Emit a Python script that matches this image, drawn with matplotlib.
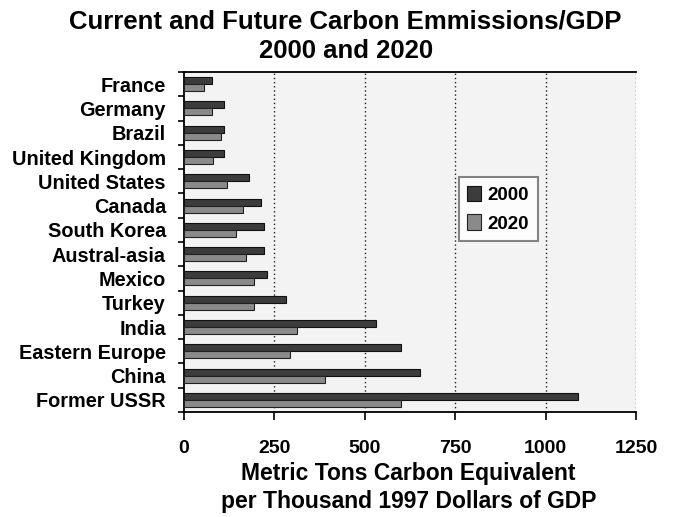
import numpy as np
import matplotlib.pyplot as plt

plt.rcParams['font.family'] = ['Liberation Sans', 'DejaVu Sans']
plt.rcParams['font.weight'] = 'bold'

regions = ["France", "Germany", "Brazil", "United Kingdom", "United States",
           "Canada", "South Korea", "Austral-asia", "Mexico", "Turkey",
           "India", "Eastern Europe", "China", "Former USSR"]
em_2000 = [77, 111, 111, 111, 180, 213, 221, 221, 230, 281, 531, 600, 652, 1090]
em_2020 = [55, 78, 103, 81, 120, 163, 143, 171, 194, 194, 312, 292, 390, 600]
xticks = [0, 250, 500, 750, 1000, 1250]

fig = plt.figure(figsize=(6.75, 5.17), dpi=100)
ax = fig.add_axes([0.2726, 0.2031, 0.6696, 0.6576])
ax.set_facecolor("#f3f3f3")

y = np.arange(len(regions))
h = 0.29
ax.barh(y - h / 2, em_2000, height=h, color="#3c3c3c", edgecolor="#111111",
        linewidth=0.8, label="2000", zorder=3)
ax.barh(y + h / 2, em_2020, height=h, color="#8a8a8a", edgecolor="#222222",
        linewidth=0.8, label="2020", zorder=3)

ax.set_ylim(len(regions) - 0.5, -0.5)
ax.set_xlim(0, 1250)
ax.set_xticks(xticks)
ax.set_xticklabels([str(t) for t in xticks], fontsize=14, fontweight="bold")
ax.set_yticks(y)
ax.set_yticklabels(regions, fontsize=14.3, fontweight="bold")
ax.tick_params(axis="y", length=0, pad=13)
ax.set_yticks(np.arange(len(regions) + 1) - 0.5, minor=True)
ax.tick_params(axis="y", which="minor", length=4, width=1.2, color="black")
ax.tick_params(axis="x", length=6, width=1.2, pad=14)

for gx in xticks[1:]:
    ax.axvline(gx, color="#222222", linestyle=(0, (1, 2)), linewidth=1.0, zorder=1)

for side in ["top", "left", "bottom"]:
    ax.spines[side].set_linewidth(1.3)
ax.spines["right"].set_visible(False)

leg = ax.legend(loc="upper left", bbox_to_anchor=(0.608, 0.69), borderaxespad=0,
                fontsize=13.5, frameon=True, fancybox=False, handlelength=0.75,
                handleheight=0.9, handletextpad=0.35, labelspacing=0.55,
                borderpad=0.45)
leg.get_frame().set_edgecolor("#666666")
leg.get_frame().set_linewidth(1.5)
leg.get_frame().set_facecolor("white")
for t in leg.get_texts():
    t.set_fontweight("bold")

fig.text(0.512, 0.959, "Current and Future Carbon Emmissions/GDP", ha="center",
         va="center", fontsize=18.5, fontweight="bold")
fig.text(0.512, 0.902, "2000 and 2020", ha="center", va="center",
         fontsize=18.5, fontweight="bold")
fig.text(0.605, 0.085, "Metric Tons Carbon Equivalent", ha="center",
         va="center", fontsize=16.5, fontweight="bold")
fig.text(0.605, 0.030, "per Thousand 1997 Dollars of GDP", ha="center",
         va="center", fontsize=16.5, fontweight="bold")

fig.savefig("out.png", dpi=100)
